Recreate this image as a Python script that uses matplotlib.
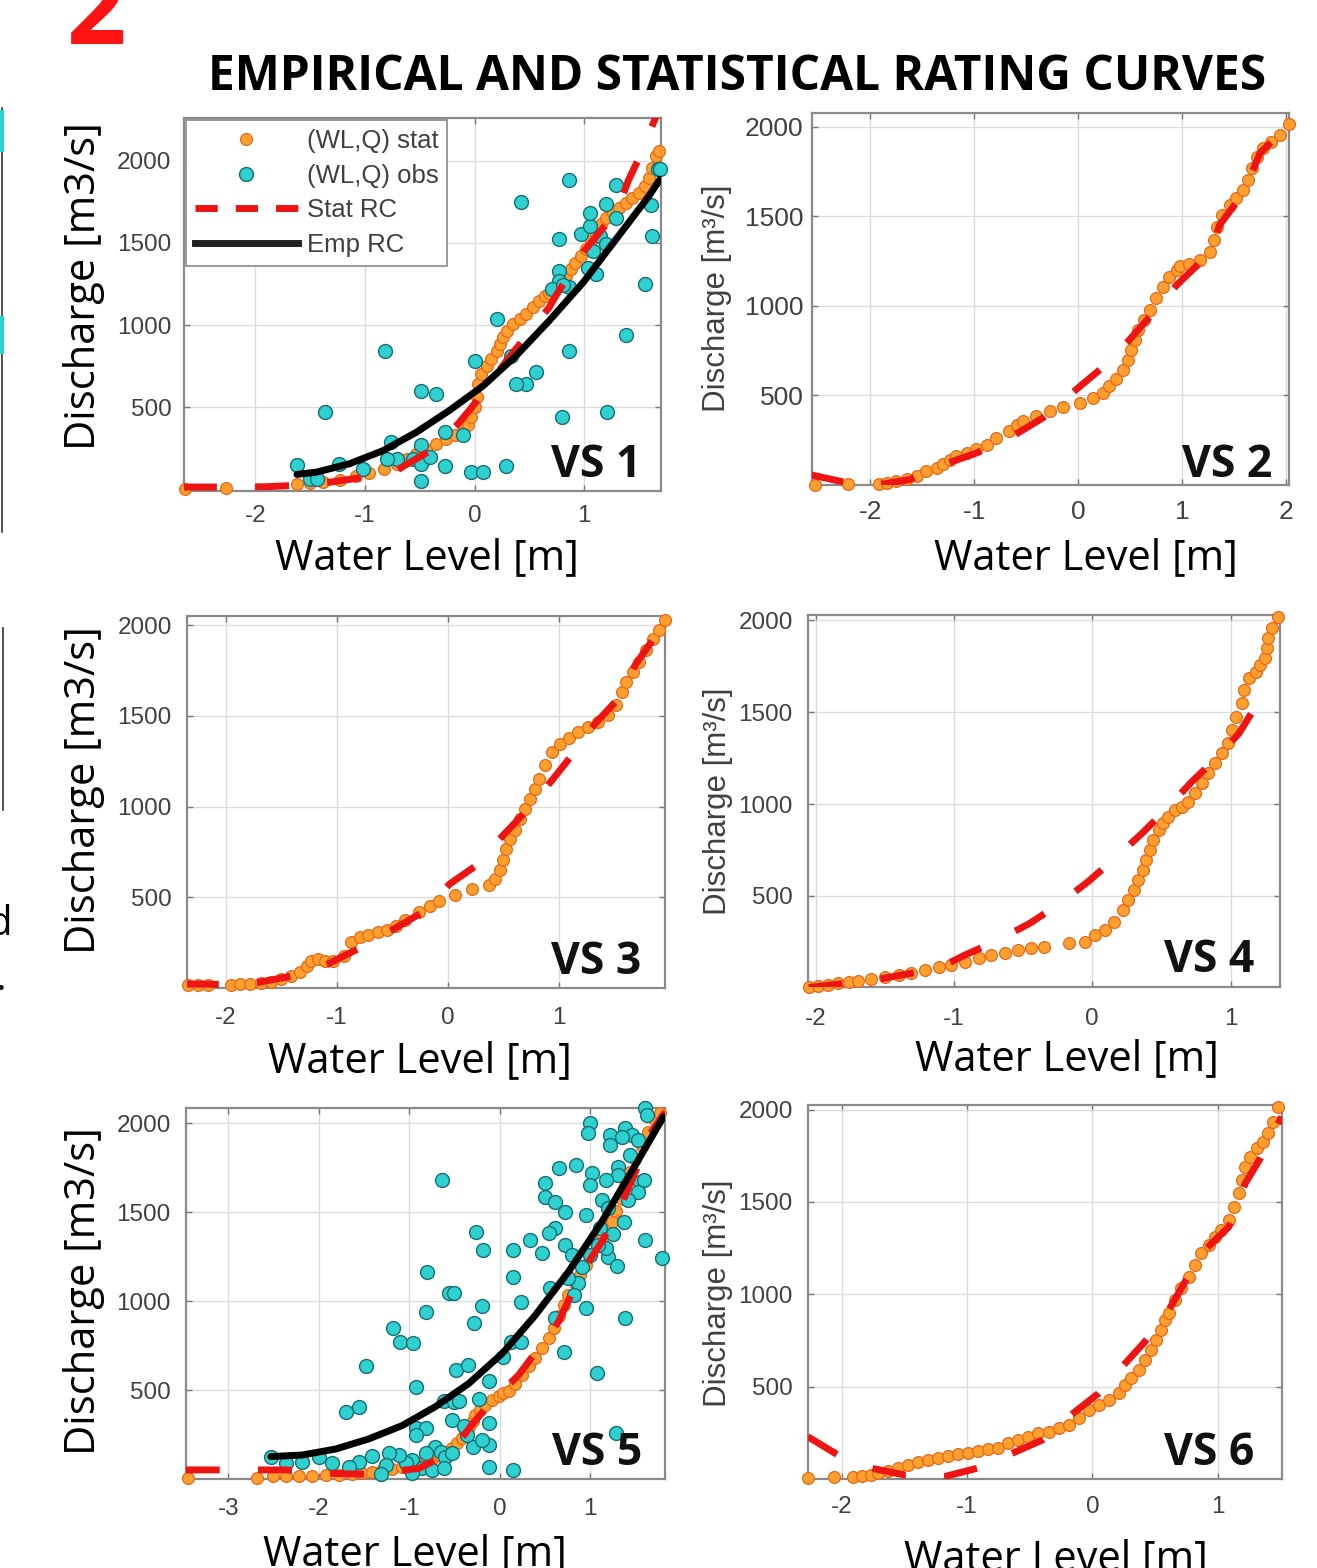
import matplotlib
matplotlib.use("Agg")
import matplotlib.pyplot as plt
from matplotlib.lines import Line2D

plt.rcParams['axes.unicode_minus'] = False

# ---------------- data ----------------
# VS 1
vs1_stat_wl = [-2.64, -2.27, -1.62, -1.50, -1.38, -1.23, -1.08, -0.96, -0.83, -0.71,
               -0.62, -0.53, -0.44, -0.35, -0.26, -0.18, -0.11, -0.06, -0.03, 0.00,
               0.02, 0.03, 0.06, 0.11, 0.15, 0.20, 0.23, 0.26, 0.30, 0.35,
               0.41, 0.47, 0.53, 0.59, 0.64, 0.68, 0.73, 0.79, 0.83, 0.88,
               0.92, 0.97, 1.02, 1.06, 1.11, 1.15, 1.20, 1.26, 1.32, 1.38,
               1.44, 1.50, 1.55, 1.59, 1.62, 1.65, 1.68]
vs1_stat_q = [5, 8, 34, 38, 45, 59, 79, 99, 125, 156,
              186, 217, 247, 277, 308, 328, 348, 389, 439, 500,
              561, 642, 702, 753, 793, 844, 884, 925, 965, 1006,
              1036, 1067, 1107, 1148, 1178, 1198, 1218, 1259, 1299, 1340,
              1380, 1421, 1461, 1512, 1562, 1613, 1654, 1684, 1714, 1745,
              1775, 1805, 1846, 1896, 1957, 2028, 2058]
vs1_obs_wl = [0.86, 0.42, 1.29, 1.20, 0.77, 0.97, 1.05, 1.14, 1.20, 1.29,
              1.61, 1.62, 1.67, 1.55, 1.08, 1.03, 0.77, 0.77, 0.86, 0.20,
              1.38, 0.86, 0.00, 0.33, 0.56, 0.47, 0.38, -0.82, -0.49, -0.35,
              -1.36, 0.80, 1.21, -0.27, -0.11, -0.76, -0.49, -0.56, -0.49, -0.41,
              -0.71, -0.80, -1.02, -1.24, -1.62, -1.50, -1.44, -0.27, -0.03, 0.08,
              0.29, -0.49, 1.69, 1.05, 1.11, 0.71, 0.81]
vs1_obs_q = [1882, 1751, 1850, 1735, 1526, 1552, 1603, 1542, 1492, 1654,
             1730, 1542, 1947, 1249, 1451, 1350, 1330, 1269, 1229, 1036,
             941, 840, 783, 814, 712, 642, 642, 844, 601, 581,
             468, 443, 468, 348, 328, 287, 267, 186, 156, 196,
             186, 186, 125, 156, 146, 65, 65, 140, 105, 105,
             140, 49, 1951, 1684, 1310, 1220, 1244]
vs1_rc_wl = [-2.66, -2.30, -1.90, -1.60, -1.30, -1.00, -0.70, -0.40, -0.15, 0.00,
             0.05, 0.30, 0.68, 0.75, 1.00, 1.30, 1.40, 1.50, 1.65, 1.72]
vs1_rc_q = [14, 14, 16, 25, 45, 75, 120, 237, 399, 520,
            571, 790, 1107, 1188, 1451, 1694, 1876, 2018, 2261, 2400]
vs1_emp_wl = [-1.62, -1.44, -1.14, -0.83, -0.53, -0.23, 0.08, 0.38, 0.68, 0.99, 1.29, 1.59, 1.69]
vs1_emp_q = [91, 105, 156, 237, 348, 480, 631, 814, 1026, 1259, 1522, 1785, 1886]

# VS 2
vs2_stat_wl = [-2.53, -2.21, -1.92, -1.84, -1.75, -1.65, -1.55, -1.46, -1.36, -1.30,
               -1.23, -1.17, -1.07, -0.98, -0.88, -0.79, -0.66, -0.59, -0.53, -0.40,
               -0.27, -0.14, 0.02, 0.14, 0.24, 0.30, 0.37, 0.43, 0.48, 0.51,
               0.55, 0.58, 0.63, 0.69, 0.75, 0.82, 0.88, 0.95, 0.98, 1.07,
               1.17, 1.27, 1.31, 1.34, 1.39, 1.46, 1.52, 1.59, 1.64, 1.67,
               1.72, 1.78, 1.86, 1.94, 2.03]
vs2_stat_q = [2, 7, 7, 11, 20, 33, 48, 76, 95, 119,
              141, 160, 178, 201, 225, 262, 299, 336, 355, 383,
              411, 433, 457, 485, 513, 550, 591, 643, 699, 755,
              811, 866, 922, 978, 1043, 1108, 1164, 1201, 1220, 1234,
              1257, 1303, 1368, 1443, 1508, 1563, 1601, 1647, 1703, 1768,
              1833, 1879, 1917, 1954, 2015]
vs2_rc_wl = [-2.58, -2.21, -1.94, -1.62, -1.30, -0.98, -0.66, -0.34, -0.02, 0.24,
             0.48, 0.72, 0.95, 1.28, 1.36, 1.59, 1.75, 1.91, 2.02]
vs2_rc_q = [58, 11, 0, 30, 113, 178, 262, 374, 532, 658,
            801, 959, 1117, 1300, 1450, 1628, 1852, 1945, 2000]

# VS 3
vs3_stat_wl = [-2.34, -2.25, -2.16, -1.95, -1.87, -1.78, -1.68, -1.59, -1.50, -1.41,
               -1.33, -1.27, -1.23, -1.17, -1.11, -1.03, -0.93, -0.87, -0.79, -0.72,
               -0.63, -0.55, -0.47, -0.38, -0.26, -0.16, -0.08, 0.07, 0.22, 0.37,
               0.43, 0.47, 0.50, 0.53, 0.56, 0.61, 0.65, 0.70, 0.74, 0.79,
               0.82, 0.88, 0.94, 1.01, 1.09, 1.18, 1.27, 1.36, 1.45, 1.52,
               1.57, 1.61, 1.67, 1.73, 1.79, 1.85, 1.91, 1.96]
vs3_stat_q = [17, 17, 17, 17, 20, 22, 28, 35, 50, 68,
              90, 123, 151, 160, 151, 151, 178, 252, 280, 293,
              307, 322, 344, 372, 418, 454, 482, 513, 543, 569,
              602, 648, 703, 764, 819, 868, 929, 984, 1043, 1098,
              1154, 1227, 1301, 1347, 1378, 1411, 1439, 1466, 1503, 1558,
              1632, 1687, 1742, 1798, 1862, 1926, 1972, 2028]
vs3_rc_wl = [-2.37, -2.01, -1.71, -1.38, -1.08, -0.81, -0.51, -0.20, 0.02, 0.28,
             0.50, 0.70, 0.94, 1.12, 1.33, 1.54, 1.69, 1.90, 1.96]
vs3_rc_q = [22, 20, 31, 68, 132, 215, 316, 427, 574, 684,
            841, 970, 1144, 1282, 1457, 1595, 1779, 1963, 2000]

# VS 4
vs4_stat_wl = [-2.05, -1.98, -1.91, -1.84, -1.76, -1.69, -1.60, -1.50, -1.40, -1.31,
               -1.21, -1.11, -1.02, -0.92, -0.82, -0.73, -0.63, -0.54, -0.44, -0.35,
               -0.17, -0.05, 0.02, 0.09, 0.16, 0.22, 0.26, 0.30, 0.33, 0.37,
               0.39, 0.42, 0.44, 0.48, 0.51, 0.55, 0.60, 0.65, 0.69, 0.74,
               0.79, 0.84, 0.89, 0.94, 0.98, 1.01, 1.04, 1.08, 1.10, 1.13,
               1.18, 1.21, 1.25, 1.26, 1.27, 1.30, 1.34]
vs4_stat_q = [7, 11, 14, 25, 34, 40, 47, 62, 72, 83,
              98, 112, 125, 143, 161, 179, 192, 207, 216, 225,
              246, 252, 288, 315, 361, 424, 478, 533, 587, 641,
              696, 750, 805, 859, 895, 931, 968, 986, 1013, 1058,
              1113, 1167, 1221, 1276, 1330, 1403, 1475, 1548, 1620, 1683,
              1720, 1756, 1792, 1846, 1901, 1955, 2019]
vs4_rc_wl = [-2.05, -1.60, -1.11, -0.92, -0.70, -0.45, -0.25, -0.03, 0.15, 0.36,
             0.53, 0.72, 0.91, 1.06, 1.21]
vs4_rc_q = [2, 40, 107, 179, 252, 352, 451, 578, 696, 841,
            968, 1122, 1258, 1384, 1566]

# VS 5
vs5_stat_wl = [-3.45, -2.68, -2.51, -2.36, -2.22, -2.07, -1.92, -1.78, -1.63, -1.52,
               -1.41, -1.30, -1.19, -1.08, -0.97, -0.90, -0.82, -0.74, -0.67, -0.60,
               -0.53, -0.47, -0.42, -0.38, -0.34, -0.30, -0.27, -0.22, -0.16, -0.08,
               -0.01, 0.04, 0.10, 0.17, 0.25, 0.32, 0.39, 0.47, 0.54, 0.60,
               0.65, 0.71, 0.76, 0.84, 0.89, 0.95, 1.00, 1.07, 1.13, 1.18,
               1.24, 1.29, 1.35, 1.39, 1.44, 1.50, 1.57, 1.64, 1.72, 1.77]
vs5_stat_q = [6, 6, 15, 17, 19, 19, 21, 24, 30, 35,
              41, 48, 56, 66, 79, 92, 105, 120, 135, 153,
              173, 200, 229, 262, 294, 327, 360, 390, 416, 444,
              469, 482, 495, 533, 585, 638, 683, 735, 791, 851,
              919, 979, 1035, 1091, 1148, 1204, 1260, 1316, 1358, 1395,
              1448, 1508, 1575, 1650, 1725, 1800, 1875, 1950, 2019, 2057]
vs5_obs_wl = [1.61, 1.63, 1.00, 0.98, 1.22, 1.39, 1.46, 1.35, 1.22, 1.53,
              1.44, 0.65, 0.84, 0.50, 1.02, 1.00, 1.31, 1.31, 1.17, 1.55,
              1.59, 1.53, 0.50, 0.61, 0.72, 1.13, 1.42, 0.95, 1.20, 1.37,
              1.11, 0.61, 0.54, 0.34, 0.47, 0.72, 1.61, 1.79, 1.20, 1.18,
              1.09, 1.00, 0.91, 0.87, 0.76, 0.82, 0.56, 0.15, 0.15, -0.18,
              -0.26, -0.64, -0.80, -0.56, -0.51, 0.23, 0.95, 1.39, -0.20, -0.81,
              -0.28, 0.61, -1.18, -1.10, -0.96, 0.12, 0.23, 0.71, 0.04, -1.48,
              1.07, -0.48, -0.35, -0.12, -0.93, -1.70, -1.56, -0.62, -0.50, -0.45,
              -0.23, -0.53, -0.93, -0.82, -0.93, -0.12, -0.12, -0.12, 0.15, 1.28,
              -0.71, -0.65, -0.60, -0.53, -0.82, -0.97, -1.04, -1.11, -1.22, -1.26,
              -1.41, -1.56, -1.67, -1.85, -2.00, -2.18, -2.36, -2.53, -0.86, -0.75,
              -0.97, -0.30, -0.36, -0.40, -1.31, -0.62, -0.20, 0.80, 1.25, 1.30]
vs5_obs_q = [2085, 2048, 2001, 1944, 1935, 1973, 1935, 1926, 1879, 1907,
             1823, 1748, 1766, 1663, 1719, 1654, 1757, 1710, 1682, 1673,
             1682, 1616, 1588, 1560, 1504, 1569, 1569, 1485, 1523, 1448,
             1410, 1410, 1382, 1344, 1269, 1316, 1344, 1241, 1251, 1298,
             1316, 1260, 1194, 1101, 1129, 1035, 1073, 1138, 1288, 1288,
             1388, 1682, 1163, 1044, 1048, 998, 964, 908, 975, 941,
             876, 904, 851, 773, 763, 773, 769, 716, 688, 638,
             594, 613, 641, 551, 519, 379, 407, 439, 435, 439,
             450, 332, 289, 289, 248, 313, 191, 69, 51, 257,
             182, 154, 126, 144, 144, 107, 88, 135, 144, 79,
             131, 98, 69, 88, 126, 98, 88, 126, 60, 51,
             32, 180, 250, 300, 30, 60, 220, 1260, 1380, 1200]
vs5_rc_wl = [-3.47, -2.36, -1.92, -1.41, -0.89, -0.53, -0.31, -0.09, 0.21, 0.43,
             0.65, 0.91, 1.13, 1.31, 1.50, 1.68, 1.83]
vs5_rc_q = [51, 51, 32, 26, 60, 154, 304, 435, 585, 735,
            885, 1166, 1335, 1504, 1729, 1954, 2066]
vs5_emp_wl = [-2.53, -2.18, -1.81, -1.45, -1.08, -0.71, -0.34, 0.03, 0.39, 0.76, 1.13, 1.50, 1.81]
vs5_emp_q = [126, 135, 169, 225, 300, 407, 538, 707, 919, 1166, 1448, 1766, 2038]

# VS 6
vs6_stat_wl = [-2.27, -2.06, -1.91, -1.84, -1.77, -1.71, -1.63, -1.55, -1.47, -1.39,
               -1.31, -1.23, -1.15, -1.07, -0.99, -0.91, -0.83, -0.75, -0.67, -0.59,
               -0.51, -0.43, -0.35, -0.27, -0.19, -0.11, -0.03, 0.05, 0.13, 0.21,
               0.26, 0.31, 0.37, 0.42, 0.47, 0.51, 0.55, 0.58, 0.61, 0.66,
               0.71, 0.77, 0.82, 0.87, 0.93, 0.98, 1.03, 1.09, 1.13, 1.17,
               1.19, 1.22, 1.26, 1.31, 1.36, 1.40, 1.44, 1.48]
vs6_stat_q = [4, 9, 13, 16, 22, 34, 45, 58, 76, 90,
              103, 112, 125, 134, 143, 153, 161, 166, 193, 211,
              229, 247, 256, 274, 292, 329, 374, 401, 428, 464,
              509, 545, 590, 644, 699, 753, 807, 861, 897, 969,
              1032, 1096, 1159, 1222, 1267, 1312, 1348, 1402, 1475, 1547,
              1619, 1691, 1745, 1791, 1827, 1872, 1935, 2013]
vs6_rc_wl = [-2.27, -2.03, -1.76, -1.50, -1.18, -0.92, -0.64, -0.40, -0.17, 0.05,
             0.25, 0.42, 0.61, 0.87, 1.09, 1.22, 1.34, 1.51]
vs6_rc_q = [229, 130, 58, 22, 13, 58, 139, 211, 347, 464,
            617, 744, 915, 1222, 1366, 1601, 1736, 1962]

q_ticks = [500, 1000, 1500, 2000]
legend_labels = ['(WL,Q) stat', '(WL,Q) obs', 'Stat RC', 'Emp RC']

# ---------------- styling ----------------
W, H = 1317, 1568
ORANGE, ORANGE_EDGE = '#ffa02e', '#e8661a'
CYAN, CYAN_EDGE = '#2fd0d0', '#176e72'
RED = '#ee1414'
TICK_C = '#404040'
BIG = 'Open Sans'
SMALL = 'Liberation Sans'

fig = plt.figure(figsize=(W / 100, H / 100), dpi=100)
fig.patch.set_facecolor('white')


def ftext(x, y, s, **kw):
    fig.text(x / W, 1 - y / H, s, **kw)


def box(left, top, right, bottom):
    return [left / W, 1 - bottom / H, (right - left) / W, (bottom - top) / H]


panels = [
    dict(name='VS 1', box=(184, 118, 661, 491), xlim=(-2.65, 1.70), ylim=(-10, 2260),
         xticks=[-2, -1, 0, 1], xpad=10, ypad=9, tfs=17.5,
         stat=(vs1_stat_wl, vs1_stat_q), obs=(vs1_obs_wl, vs1_obs_q),
         rc=(vs1_rc_wl, vs1_rc_q), emp=(vs1_emp_wl, vs1_emp_q),
         xl=(427, 569), yl=(84, 286), big=True, vs=(596, 477), legend=True),
    dict(name='VS 2', box=(812, 113, 1289, 485), xlim=(-2.56, 2.03), ylim=(0, 2077),
         xticks=[-2, -1, 0, 1, 2], xpad=11, ypad=6, tfs=19,
         stat=(vs2_stat_wl, vs2_stat_q), obs=None,
         rc=(vs2_rc_wl, vs2_rc_q), emp=None,
         xl=(1086, 569), yl=(717, 298), big=False, vs=(1227, 477), legend=False),
    dict(name='VS 3', box=(187, 616, 665, 988), xlim=(-2.35, 1.96), ylim=(0, 2050),
         xticks=[-2, -1, 0, 1], xpad=14, ypad=11, tfs=17.5,
         stat=(vs3_stat_wl, vs3_stat_q), obs=None,
         rc=(vs3_rc_wl, vs3_rc_q), emp=None,
         xl=(420, 1072), yl=(84, 790), big=True, vs=(596, 974), legend=False),
    dict(name='VS 4', box=(808, 615, 1280, 987), xlim=(-2.055, 1.357), ylim=(5, 2028),
         xticks=[-2, -1, 0, 1], xpad=15, ypad=11, tfs=17.5,
         stat=(vs4_stat_wl, vs4_stat_q), obs=None,
         rc=(vs4_rc_wl, vs4_rc_q), emp=None,
         xl=(1067, 1070), yl=(718, 801), big=False, vs=(1209, 972), legend=False),
    dict(name='VS 5', box=(186, 1108, 665, 1479), xlim=(-3.467, 1.827), ylim=(0, 2087),
         xticks=[-3, -2, -1, 0, 1], xpad=14, ypad=11, tfs=17.5,
         stat=(vs5_stat_wl, vs5_stat_q), obs=(vs5_obs_wl, vs5_obs_q),
         rc=(vs5_rc_wl, vs5_rc_q), emp=(vs5_emp_wl, vs5_emp_q),
         xl=(415, 1565), yl=(84, 1291), big=True, vs=(597, 1465), legend=False),
    dict(name='VS 6', box=(808, 1105, 1282, 1479), xlim=(-2.269, 1.513), ylim=(0, 2025),
         xticks=[-2, -1, 0, 1], xpad=12, ypad=11, tfs=17.5,
         stat=(vs6_stat_wl, vs6_stat_q), obs=None,
         rc=(vs6_rc_wl, vs6_rc_q), emp=None,
         xl=(1056, 1570), yl=(718, 1293), big=False, vs=(1209, 1465), legend=False),
]

for p in panels:
    ax = fig.add_axes(box(*p['box']))
    ax.set_facecolor('white')

    ax.plot(*p['stat'], 'o', ms=8.5, mfc=ORANGE, mec=ORANGE_EDGE, mew=0.9,
            ls='none', clip_on=False, zorder=3)
    if p['obs'] is not None:
        ax.plot(*p['obs'], 'o', ms=10, mfc=CYAN, mec=CYAN_EDGE, mew=1.0,
                ls='none', clip_on=False, zorder=4)
    ax.plot(*p['rc'], color=RED, lw=5, dashes=(4.9, 5.5), solid_capstyle='butt',
            dash_capstyle='butt', zorder=5)
    if p['emp'] is not None:
        ax.plot(*p['emp'], color='black', lw=5, solid_capstyle='round', zorder=6)

    ax.set_xlim(*p['xlim'])
    ax.set_ylim(*p['ylim'])
    ax.set_xticks(p['xticks'])
    ax.set_yticks(q_ticks)
    ax.grid(True, color='#dcdcdc', lw=1.0, zorder=0)
    ax.set_axisbelow(True)
    for s in ax.spines.values():
        s.set_color('#8a8a8a')
        s.set_linewidth(1.6)
    ax.tick_params(direction='in', length=4, width=1, color='#777777',
                   top=True, right=True, labelcolor=TICK_C, labelsize=p['tfs'])
    ax.tick_params(axis='x', pad=p['xpad'])
    ax.tick_params(axis='y', pad=p['ypad'])
    for lab in ax.get_xticklabels() + ax.get_yticklabels():
        lab.set_family(SMALL)

    if p['legend']:
        handles = [
            Line2D([], [], ls='none', marker='o', ms=8.5, mfc=ORANGE, mec=ORANGE_EDGE, mew=0.9),
            Line2D([], [], ls='none', marker='o', ms=10, mfc=CYAN, mec=CYAN_EDGE, mew=1.0),
            Line2D([], [], color=RED, lw=5, dashes=(3.2, 2.6)),
            Line2D([], [], color='#222222', lw=5),
        ]
        leg = ax.legend(handles, legend_labels, loc='upper left',
                        bbox_to_anchor=(0.004, 0.995), borderaxespad=0,
                        prop={'family': SMALL, 'size': 18.5}, handlelength=4.0,
                        handletextpad=0.35, labelspacing=0.42, borderpad=0.35,
                        fancybox=False, framealpha=1, edgecolor='#8a8a8a',
                        numpoints=1)
        leg.get_frame().set_linewidth(1.2)
        for t in leg.get_texts():
            t.set_color(TICK_C)
        leg.set_zorder(10)

    # axis labels
    xlx, xly = p['xl']
    ylx, yly = p['yl']
    ftext(xlx, xly, 'Water Level [m]', ha='center', va='baseline',
          family=BIG, fontsize=30, color='black')
    if p['big']:
        ftext(ylx, yly, 'Discharge [m3/s]', ha='center', va='center', rotation=90,
              family=BIG, fontsize=30, color='black')
    else:
        ftext(ylx, yly, 'Discharge [m³/s]', ha='center', va='center', rotation=90,
              family=SMALL, fontsize=22.5, color=TICK_C)
    vx, vy = p['vs']
    ftext(vx, vy, p['name'], ha='center', va='baseline', family=BIG,
          fontweight='bold', fontsize=32, color='#111111')

# title and panel number
ftext(737, 90, 'EMPIRICAL AND STATISTICAL RATING CURVES', ha='center', va='baseline',
      family=BIG, fontweight='bold', fontsize=34.5, color='black')
ftext(96, 44, '2', ha='center', va='baseline', family=BIG, fontweight='bold',
      fontsize=75, color='#ff1414')

# fragments of the neighbouring figure at the left edge
fig.add_artist(Line2D([2 / W, 2 / W], [1 - 108 / H, 1 - 532 / H], color='#333333', lw=1.2))
fig.add_artist(Line2D([2 / W, 2 / W], [1 - 112 / H, 1 - 150 / H], color=CYAN, lw=3))
fig.add_artist(Line2D([2 / W, 2 / W], [1 - 318 / H, 1 - 352 / H], color=CYAN, lw=3))
fig.add_artist(Line2D([3 / W, 3 / W], [1 - 628 / H, 1 - 810 / H], color='#333333', lw=1.2))
ftext(-12, 935, 'd', ha='left', va='baseline', family=BIG, fontsize=29, color='black')
ftext(-4, 990, '.', ha='left', va='baseline', family=BIG, fontsize=29, color='black')

fig.savefig('out.png', dpi=100, facecolor='white')
